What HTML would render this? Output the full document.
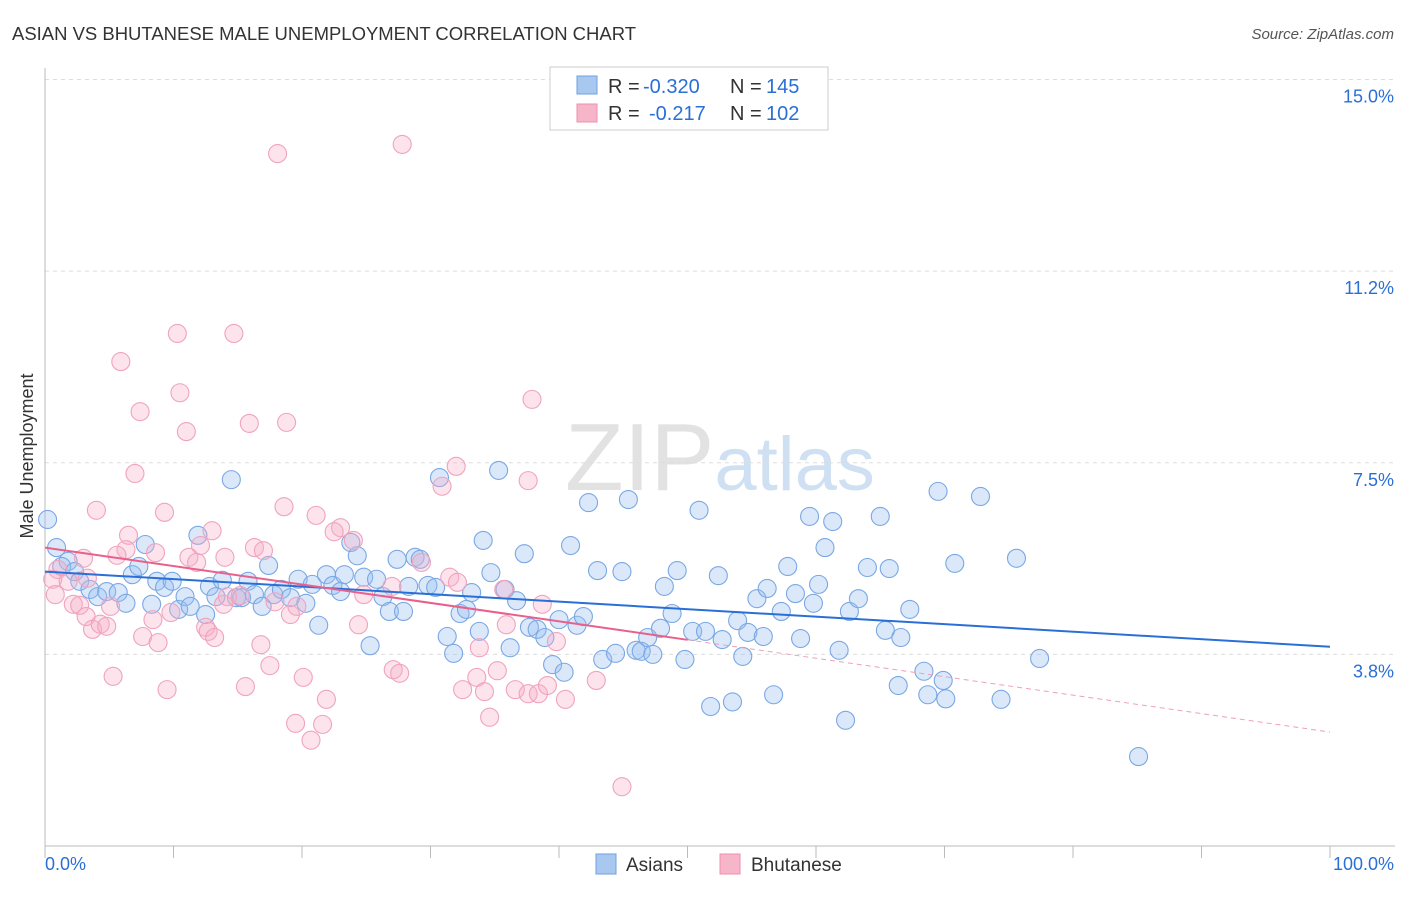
<!DOCTYPE html>
<html><head><meta charset="utf-8"><style>
body{margin:0;background:#fff;font-family:"Liberation Sans",sans-serif}
svg text{font-family:"Liberation Sans",sans-serif}
</style></head><body>
<svg id="chart" width="1406" height="892" xmlns="http://www.w3.org/2000/svg">
<text x="12" y="40" font-size="18" fill="#333" textLength="624" lengthAdjust="spacingAndGlyphs">ASIAN VS BHUTANESE MALE UNEMPLOYMENT CORRELATION CHART</text>
<text x="1394" y="39" font-size="15" fill="#555" text-anchor="end" font-style="italic">Source: ZipAtlas.com</text>
<text x="720" y="490" font-size="96" text-anchor="middle" fill="#e2e2e2" font-family="Liberation Serif"><tspan>ZIP</tspan><tspan fill="#cfe0f3" font-family="Liberation Sans" font-size="76">atlas</tspan></text>
<text transform="translate(33,456) rotate(-90)" font-size="18" fill="#333" text-anchor="middle">Male Unemployment</text>
<g id="grid"></g><g id="marks"></g>
<g>
<rect x="550" y="67" width="278" height="63" fill="#fff" stroke="#ccc"/>
<rect x="577" y="76" width="20" height="18" fill="#a9c8f0" stroke="#6fa0e0"/>
<text x="608" y="93" font-size="20" fill="#333">R =</text>
<text x="643" y="93" font-size="20" fill="#2a6fd6">-0.320</text>
<text x="730" y="93" font-size="20" fill="#333">N =</text>
<text x="766" y="93" font-size="20" fill="#2a6fd6">145</text>
<rect x="577" y="104" width="20" height="18" fill="#f6b5c8" stroke="#ef8fae"/>
<text x="608" y="120" font-size="20" fill="#333">R =</text>
<text x="649" y="120" font-size="20" fill="#2a6fd6">-0.217</text>
<text x="730" y="120" font-size="20" fill="#333">N =</text>
<text x="766" y="120" font-size="20" fill="#2a6fd6">102</text>
</g>
<g>
<rect x="596" y="854" width="20" height="20" fill="#a9c8f0" stroke="#6fa0e0"/>
<text x="626" y="871" font-size="19" fill="#333">Asians</text>
<rect x="720" y="854" width="20" height="20" fill="#f6b5c8" stroke="#ef8fae"/>
<text x="751" y="871" font-size="19" fill="#333">Bhutanese</text>
</g>
<text x="45" y="870" font-size="18" fill="#2a6fd6">0.0%</text>
<text x="1394" y="870" font-size="18" fill="#2a6fd6" text-anchor="end">100.0%</text>
</svg>
<script>
const yTicks=[15.0,11.25,7.5,3.75];
const yTickLabels=["15.0%","11.2%","7.5%","3.8%"];
const asianX=[0.2,0.9,1.8,1.3,2.3,2.7,3.5,4.1,4.8,5.7,6.3,6.8,7.3,7.8,8.3,8.7,9.3,9.9,10.4,10.9,11.3,11.9,12.5,12.8,13.3,13.8,14.5,14.9,15.3,15.8,16.3,16.9,17.4,17.8,18.4,19.1,19.7,20.3,20.8,21.3,21.9,22.4,23.0,23.3,23.8,24.3,24.8,25.3,25.8,26.3,26.8,27.4,27.9,28.3,28.8,29.2,29.8,30.4,30.7,31.3,31.8,32.3,32.8,33.2,33.8,34.1,34.7,35.3,35.8,36.2,36.7,37.3,37.7,38.3,38.9,39.5,40.0,40.4,40.9,41.4,41.9,42.3,43.0,43.4,44.4,44.9,45.4,46.0,46.4,46.9,47.3,47.9,48.2,48.8,49.2,49.8,50.4,50.9,51.4,51.8,52.4,52.7,53.5,53.9,54.3,54.7,55.4,55.9,56.2,56.7,57.3,57.8,58.4,58.8,59.5,59.8,60.2,60.7,61.3,61.8,62.3,62.6,63.3,64.0,65.0,65.4,65.7,66.4,66.6,67.3,68.4,68.7,69.5,69.9,70.1,70.8,72.8,74.4,75.6,77.4,85.1];
const asianY=[6.39,5.84,5.57,5.47,5.37,5.18,5.02,4.88,4.98,4.96,4.75,5.31,5.47,5.90,4.73,5.18,5.06,5.18,4.63,4.88,4.69,6.08,4.53,5.08,4.88,5.20,7.17,4.86,4.86,5.18,4.92,4.69,5.49,4.92,5.02,4.86,5.22,4.75,5.12,4.32,5.31,5.10,4.98,5.31,5.94,5.68,5.26,3.92,5.22,4.88,4.59,5.61,4.59,5.08,5.65,5.61,5.10,5.06,7.21,4.10,3.77,4.55,4.63,4.96,4.20,5.98,5.35,7.35,5.02,3.88,4.80,5.72,4.28,4.24,4.08,3.55,4.43,3.40,5.88,4.32,4.49,6.72,5.39,3.65,3.77,5.37,6.78,3.83,3.81,4.08,3.75,4.26,5.08,4.55,5.39,3.65,4.20,6.57,4.20,2.73,5.29,4.04,2.82,4.41,3.71,4.18,4.84,4.10,5.04,2.96,4.59,5.47,4.94,4.06,6.45,4.75,5.12,5.84,6.35,3.83,2.46,4.59,4.84,5.45,6.45,4.22,5.43,3.14,4.08,4.63,3.42,2.96,6.94,3.24,2.88,5.53,6.84,2.87,5.63,3.67,1.75];
const bhutX=[18.1,27.8,10.3,14.7,5.9,10.5,7.4,11.0,15.9,18.8,37.9,32.0,30.9,37.6,7.0,4.0,9.3,18.6,21.1,23.0,22.5,6.5,13.0,12.1,8.6,11.2,11.8,14.0,16.3,17.0,24.0,6.3,5.6,3.0,1.0,0.6,1.8,3.3,0.8,2.2,2.7,3.2,3.7,4.3,4.8,5.1,7.6,8.4,8.8,9.8,12.5,12.7,13.2,13.9,14.2,15.2,16.8,17.5,17.9,19.1,19.6,20.1,19.5,20.7,21.6,21.9,15.6,9.5,5.3,24.4,27.1,27.6,27.0,29.3,31.5,32.1,32.5,33.6,34.2,35.2,35.7,35.9,34.6,36.6,37.6,38.4,39.1,38.7,39.8,40.5,42.9,44.9,33.8,24.8];
const bhutY=[13.55,13.73,10.03,10.03,9.48,8.87,8.50,8.11,8.27,8.29,8.74,7.43,7.04,7.15,7.29,6.57,6.53,6.64,6.47,6.23,6.15,6.08,6.17,5.88,5.74,5.65,5.55,5.65,5.84,5.78,5.98,5.80,5.69,5.63,5.41,5.22,5.18,5.24,4.92,4.73,4.71,4.49,4.24,4.34,4.30,4.69,4.10,4.43,3.98,4.57,4.28,4.20,4.08,4.73,4.88,4.90,3.94,3.53,4.78,4.53,4.69,3.30,2.40,2.07,2.38,2.87,3.12,3.06,3.32,4.33,3.45,3.38,5.08,5.55,5.26,5.16,3.06,3.30,3.02,3.43,5.02,4.33,2.52,3.06,2.98,2.98,3.14,4.73,4.00,2.87,3.24,1.16,3.88,4.92];
const asianTrend=[5.37,3.90];
const bhutTrend=[5.84,2.23];
const bhutSolidEnd=50;
const NS="http://www.w3.org/2000/svg";
const X=v=>45+v*12.85, Y=v=>846-v*51.1;
const grid=document.getElementById('grid'), marks=document.getElementById('marks');
function mk(tag,attrs,parent){const e=document.createElementNS(NS,tag);for(const k in attrs)e.setAttribute(k,attrs[k]);parent.appendChild(e);return e;}
yTicks.forEach((t,i)=>{
 const l=mk('line',{x1:45,x2:1395,y1:Y(t),y2:Y(t),stroke:'#ddd','stroke-dasharray':'4,4'},grid);
 
 
 const tx=mk('text',{x:1394,y:Y(t)+23,'font-size':18,fill:'#2a6fd6','text-anchor':'end'},grid);
 tx.textContent=yTickLabels[i];
 
 
});
const ax=mk('line',{x1:45,x2:45,y1:68,y2:846,stroke:'#bbb'},grid);


const bx=mk('line',{x1:45,x2:1395,y1:846,y2:846,stroke:'#bbb'},grid);


for(let i=0;i<=10;i++){
 const t=mk('line',{x1:X(i*10),x2:X(i*10),y1:846,y2:858,stroke:'#bbb'},grid);
 
 
}
asianX.forEach((x,i)=>{
 const c=mk('circle',{cx:X(x),cy:Y(asianY[i]),r:9,fill:'rgba(150,190,240,0.35)',stroke:'#7aa8e4','stroke-width':1.1},marks);
 
 
});
bhutX.forEach((x,i)=>{
 const c=mk('circle',{cx:X(x),cy:Y(bhutY[i]),r:9,fill:'rgba(246,175,200,0.35)',stroke:'#f0a3bd','stroke-width':1.1},marks);
 
 
});
const at=mk('line',{x1:X(0),y1:Y(asianTrend[0]),x2:X(100),y2:Y(asianTrend[1]),stroke:'#2a6fd6','stroke-width':2},marks);


const bm=bhutTrend[0]+(bhutTrend[1]-bhutTrend[0])*bhutSolidEnd/100;
const bt=mk('line',{x1:X(0),y1:Y(bhutTrend[0]),x2:X(bhutSolidEnd),y2:Y(bm),stroke:'#e8608c','stroke-width':2},marks);


const bd=mk('line',{x1:X(bhutSolidEnd),y1:Y(bm),x2:X(100),y2:Y(bhutTrend[1]),stroke:'#eea0b8','stroke-width':1,'stroke-dasharray':'5,4'},marks);


</script>
</body></html>
